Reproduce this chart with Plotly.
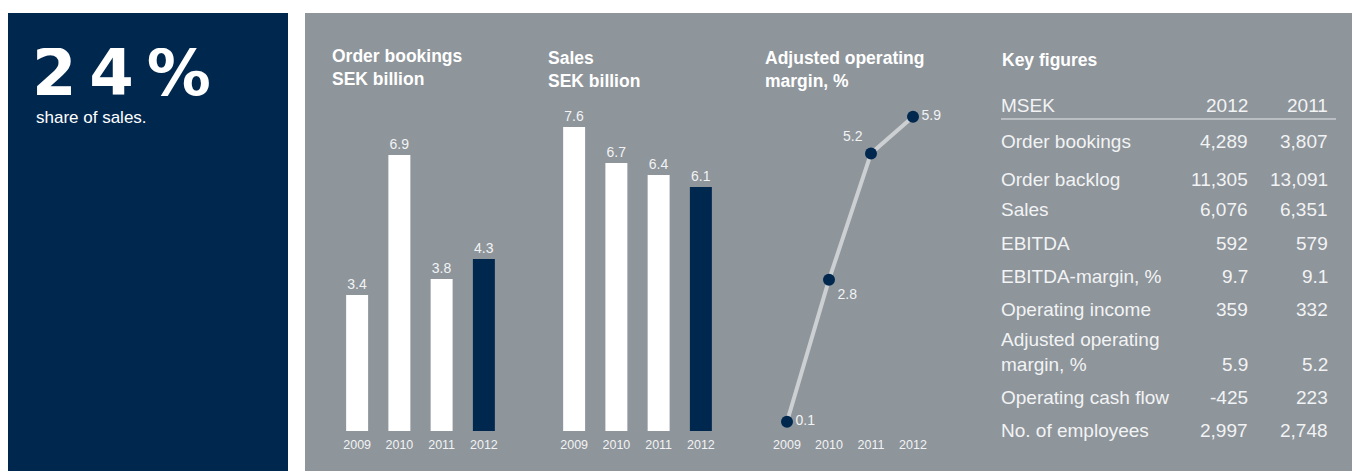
import plotly.graph_objects as go

W, H = 1352, 471

years = ["2009", "2010", "2011", "2012"]
order_bookings = [3.4, 6.9, 3.8, 4.3]
sales = [7.6, 6.7, 6.4, 6.1]
adj_margin = [0.1, 2.8, 5.2, 5.9]

table_header = ["MSEK", "2012", "2011"]
table_labels = ["Order bookings", "Order backlog", "Sales", "EBITDA", "EBITDA-margin, %",
                "Operating income", "Adjusted operating<br>margin, %", "Operating cash flow",
                "No. of employees"]
table_2012 = ["4,289", "11,305", "6,076", "592", "9.7", "359", "5.9", "-425", "2,997"]
table_2011 = ["3,807", "13,091", "6,351", "579", "9.1", "332", "5.2", "223", "2,748"]

NAVY = "#00284f"
GRAY = "#8e959b"
WHITE = "#ffffff"
TXT = "#f2f3f4"
FONT = "Liberation Sans, Arial, sans-serif"


def px(x):
    return x / W


def py(y):
    return 1 - y / H


fig = go.Figure()

bar_colors = [WHITE, WHITE, WHITE, NAVY]

fig.add_trace(go.Bar(x=years, y=order_bookings, marker=dict(color=bar_colors, line=dict(width=0)),
                     width=0.52, text=[f"{v:.1f}" for v in order_bookings], textposition="outside",
                     textfont=dict(color=TXT, size=14, family=FONT), cliponaxis=False,
                     xaxis="x", yaxis="y", showlegend=False, hoverinfo="skip"))
fig.add_trace(go.Bar(x=years, y=sales, marker=dict(color=bar_colors, line=dict(width=0)),
                     width=0.52, text=[f"{v:.1f}" for v in sales], textposition="outside",
                     textfont=dict(color=TXT, size=14, family=FONT), cliponaxis=False,
                     xaxis="x2", yaxis="y2", showlegend=False, hoverinfo="skip"))
fig.add_trace(go.Scatter(x=years, y=adj_margin, mode="lines+markers+text",
                         line=dict(color="#cdd0d2", width=4),
                         marker=dict(color=NAVY, size=12),
                         text=[f"{v:.1f}" for v in adj_margin],
                         textposition=["middle right", "bottom right", "top left", "middle right"],
                         textfont=dict(color=TXT, size=14, family=FONT), cliponaxis=False,
                         xaxis="x3", yaxis="y3", showlegend=False, hoverinfo="skip"))

bar_top = 100
bar_bottom = 431
ax_common = dict(showgrid=False, zeroline=False, showline=False, ticks="", ticklabelstandoff=4,
                 tickfont=dict(color=TXT, size=12.5, family=FONT), fixedrange=True)
yax_common = dict(showgrid=False, zeroline=False, showline=False, showticklabels=False,
                  fixedrange=True)

fig.update_layout(
    width=W, height=H,
    margin=dict(l=0, r=0, t=0, b=0),
    paper_bgcolor="white", plot_bgcolor="rgba(0,0,0,0)",
    xaxis=dict(domain=[px(336), px(505)], range=[-0.5, 3.5], type="category", anchor="y", **ax_common),
    yaxis=dict(domain=[py(bar_bottom), py(bar_top)], range=[0, (bar_bottom - bar_top) / 40.0],
               anchor="x", **yax_common),
    xaxis2=dict(domain=[px(553), px(722)], range=[-0.5, 3.5], type="category", anchor="y2", **ax_common),
    yaxis2=dict(domain=[py(bar_bottom), py(bar_top)], range=[0, (bar_bottom - bar_top) / 40.0],
                anchor="x2", **yax_common),
    xaxis3=dict(domain=[px(766), px(934)], range=[-0.5, 3.5], type="category", anchor="y3", **ax_common),
    yaxis3=dict(domain=[py(bar_bottom), py(bar_top)],
                range=[-4 / 52.6, -4 / 52.6 + (bar_bottom - bar_top) / 52.6],
                anchor="x3", **yax_common),
)

shapes = [
    dict(type="rect", xref="paper", yref="paper", x0=px(8), x1=px(288), y0=0, y1=py(13),
         fillcolor=NAVY, line=dict(width=0), layer="below"),
    dict(type="rect", xref="paper", yref="paper", x0=px(305), x1=1, y0=0, y1=py(13),
         fillcolor=GRAY, line=dict(width=0), layer="below"),
    dict(type="line", xref="paper", yref="paper", x0=px(1001), x1=px(1336), y0=py(119), y1=py(119),
         line=dict(color="#e6e8ea", width=1)),
]
fig.update_layout(shapes=shapes)

ann = []


def add_text(x, y, text, size, anchor="left", bold=False, color=TXT, yanchor="middle"):
    ann.append(dict(xref="paper", yref="paper", x=px(x), y=py(y), text=f"<b>{text}</b>" if bold else text,
                    showarrow=False, xanchor=anchor, yanchor=yanchor, align=anchor, borderpad=0,
                    font=dict(color=color, size=size, family=FONT)))


# Left panel
ann.append(dict(xref="paper", yref="paper", x=px(31), y=py(73), text="<b>2\u20094\u2009%</b>", showarrow=False,
                xanchor="left", yanchor="middle", height=50, valign="middle", borderpad=0,
                font=dict(color=WHITE, size=64, family="DejaVu Sans, sans-serif")))
add_text(35, 118, "share of sales.", 17, color=WHITE)

# Chart titles
add_text(331, 68, "Order bookings<br>SEK billion", 17.5, bold=True, color=WHITE)
add_text(547, 70, "Sales<br>SEK billion", 17.5, bold=True, color=WHITE)
add_text(764, 70, "Adjusted operating<br>margin, %", 17.5, bold=True, color=WHITE)
add_text(1001, 60, "Key figures", 17.5, bold=True, color=WHITE)

# Table
TS = 19
add_text(1000, 106, table_header[0], TS)
add_text(1249, 106, table_header[1], TS, anchor="right")
add_text(1329, 106, table_header[2], TS, anchor="right")
row_y = [142, 179, 209, 243, 276, 309, 364, 397, 430]
for lab, v12, v11, y in zip(table_labels, table_2012, table_2011, row_y):
    if "<br>" in lab:
        add_text(1000, y + 12, lab, TS, yanchor="bottom")
    else:
        add_text(1000, y, lab, TS)
    add_text(1249, y, v12, TS, anchor="right")
    add_text(1329, y, v11, TS, anchor="right")

fig.update_layout(annotations=ann)

fig.write_html("out.html", config={"displayModeBar": False},
               post_script="document.body.style.margin='0';document.body.style.overflow='hidden';")
